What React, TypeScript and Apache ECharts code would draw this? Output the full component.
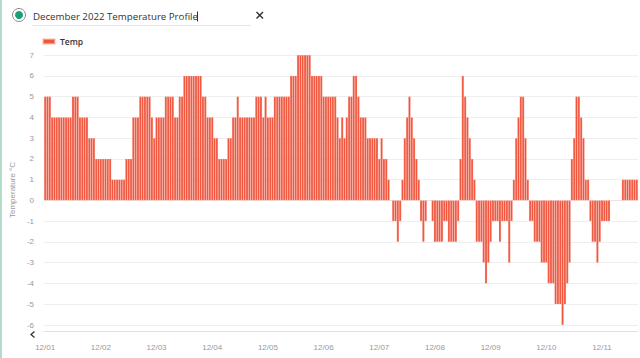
import React, { useEffect, useRef } from "react";
import * as echarts from "echarts";

// Day labels on the x axis (one bar per hour)
const days = ["12/01", "12/02", "12/03", "12/04", "12/05", "12/06", "12/07", "12/08", "12/09", "12/10", "12/11"];

// Hourly temperatures (°C)
const dec01 = [5, 5, 5, 4, 4, 4, 4, 4, 4, 4, 4, 4, 5, 5, 5, 4, 4, 4, 4, 3, 3, 3, 2, 2];
const dec02 = [2, 2, 2, 2, 2, 1, 1, 1, 1, 1, 1, 2, 2, 2, 4, 4, 4, 5, 5, 5, 5, 5, 4, 3];
const dec03 = [4, 4, 4, 4, 5, 5, 5, 5, 4, 4, 5, 5, 6, 6, 6, 6, 6, 6, 6, 6, 5, 5, 4, 4];
const dec04 = [4, 3, 3, 2, 2, 2, 2, 3, 3, 4, 4, 5, 4, 4, 4, 4, 4, 4, 4, 5, 5, 5, 4, 5];
const dec05 = [4, 4, 4, 5, 5, 5, 5, 5, 5, 5, 6, 6, 6, 7, 7, 7, 7, 7, 7, 6, 6, 6, 6, 6];
const dec06 = [5, 5, 5, 5, 5, 5, 4, 3, 4, 3, 4, 5, 5, 6, 6, 5, 4, 4, 4, 3, 3, 3, 3, 3];
const dec07 = [2, 3, 2, 2, 1, 0, -1, -1, -2, -1, 1, 3, 4, 5, 4, 3, 2, 1, -1, -2, -1, 0, 0, -1];
const dec08 = [-2, -2, -2, -2, -1, -1, -2, -2, -2, -2, -1, 2, 6, 5, 4, 3, 2, 1, -2, -2, -2, -3, -4, -3];
const dec09 = [-2, -1, -1, -1, -2, -1, -1, -1, -3, -1, 1, 3, 4, 5, 5, 3, 1, -1, -1, -2, -2, -2, -3, -3];
const dec10 = [-3, -4, -4, -4, -5, -5, -5, -6, -5, -4, -3, 2, 3, 5, 5, 4, 3, 1, 1, -1, -2, -2, -3, -2];
const dec11 = [-1, -1, -1, -1, 0, 0, 0, 0, 0, 1, 1, 1, 1, 1, 1, 1];

const temps = [...dec01, ...dec02, ...dec03, ...dec04, ...dec05, ...dec06, ...dec07, ...dec08, ...dec09, ...dec10, ...dec11];

const yMin = -6;
const yMax = 7;
const yStep = 1;

const seriesName = "Temp";
const titleText = "December 2022 Temperature Profile";
const yAxisName = "Temperature °C";

export default function App() {
  const ref = useRef<HTMLDivElement>(null);

  useEffect(() => {
    document.body.style.margin = "0";
    if (!ref.current) return;
    const chart = echarts.init(ref.current, null, { renderer: "svg" });

    const categories: string[] = [];
    for (let i = 0; i < temps.length; i++) {
      const d = days[Math.floor(i / 24)];
      const h = String(i % 24).padStart(2, "0");
      categories.push(`${d} ${h}:00`);
    }
    const showEvery = (index: number) => index % 24 === 0;
    const axisFont = "Liberation Sans, Arial, sans-serif";

    chart.setOption({
      animation: false,
      backgroundColor: "#ffffff",
      legend: {
        data: [seriesName],
        left: 37,
        top: 32,
        icon: "rect",
        itemWidth: 12,
        itemHeight: 5,
        textStyle: { fontSize: 8.5, fontWeight: 600, color: "#333", fontFamily: "Open Sans" },
      },
      grid: { left: 41, right: 2, top: 55, bottom: 33, containLabel: false },
      xAxis: {
        type: "category",
        data: categories,
        boundaryGap: true,
        offset: 6,
        axisLine: { onZero: false, lineStyle: { color: "#dce2ec" } },
        axisTick: { interval: showEvery, length: 5, lineStyle: { color: "#dce2ec" } },
        axisLabel: {
          interval: showEvery,
          formatter: (v: string) => v.slice(0, 5),
          color: "#999",
          fontSize: 8,
          fontFamily: axisFont,
          margin: 12,
        },
        splitLine: { show: false },
      },
      yAxis: {
        type: "value",
        min: yMin,
        max: yMax,
        interval: yStep,
        name: yAxisName,
        nameLocation: "middle",
        nameGap: 22,
        nameTextStyle: { color: "#999", fontSize: 8, fontFamily: axisFont },
        axisLine: { show: false },
        axisTick: { show: false },
        axisLabel: { color: "#999", fontSize: 8, fontFamily: axisFont, margin: 10 },
        splitLine: { lineStyle: { color: "#eeeeee" } },
      },
      series: [
        {
          name: seriesName,
          type: "bar",
          data: temps,
          barCategoryGap: "0%",
          itemStyle: { color: "#f0553d", borderColor: "rgba(255,200,190,0.55)", borderWidth: 0.4 },
        },
      ],
      graphic: [
        { type: "rect", shape: { x: 0, y: 0, width: 2, height: 358 }, style: { fill: "#b3dccd" } },
        { type: "circle", shape: { cx: 19, cy: 15, r: 6.5 }, style: { fill: "#fff", stroke: "#888", lineWidth: 1 } },
        { type: "circle", shape: { cx: 19, cy: 15, r: 4 }, style: { fill: "#17a07b" } },
        {
          type: "text",
          x: 33,
          y: 16,
          style: { text: titleText, fontSize: 9.7, fontFamily: "Open Sans", fill: "#333", verticalAlign: "middle", align: "left" },
        },
        { type: "line", shape: { x1: 197.5, y1: 11.5, x2: 197.5, y2: 21.5 }, style: { stroke: "#333", lineWidth: 1 } },
        { type: "line", shape: { x1: 32, y1: 25.5, x2: 251, y2: 25.5 }, style: { stroke: "#e6e6e6", lineWidth: 1 } },
        { type: "line", shape: { x1: 256.5, y1: 12, x2: 263, y2: 18.5 }, style: { stroke: "#333", lineWidth: 1.4 } },
        { type: "line", shape: { x1: 263, y1: 12, x2: 256.5, y2: 18.5 }, style: { stroke: "#333", lineWidth: 1.4 } },
        {
          type: "polyline",
          shape: { points: [[34.5, 331.5], [31, 334.5], [34.5, 337.5]] },
          style: { stroke: "#333", lineWidth: 1.3, fill: "none" },
        },
      ],
    });

    return () => chart.dispose();
  }, []);

  return (
    <div
      ref={ref}
      style={{ position: "fixed", left: 0, top: 0, width: 640, height: 358 }}
    />
  );
}
